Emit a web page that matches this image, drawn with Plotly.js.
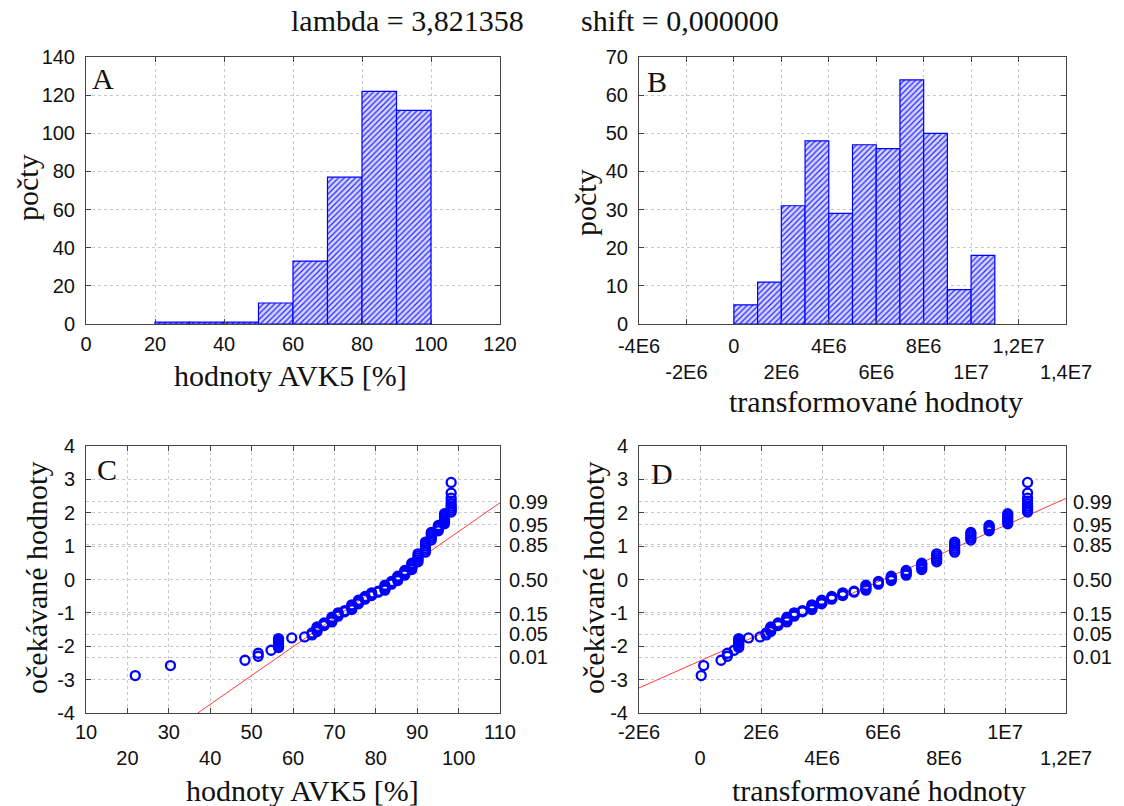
<!DOCTYPE html>
<html><head><meta charset="utf-8">
<script src="https://cdn.plot.ly/plotly-3.0.1.min.js"></script>
<style>html,body{margin:0;padding:0;background:#fff}#chart{width:1124px;height:806px}</style>
</head><body><div id="chart"></div>
<script>
// ---- Data ----
// A: histogram of raw AVK5 values
const binCentersA = [25, 35, 45, 55, 65, 75, 85, 95];
const countsA = [1, 1, 1, 11, 33, 77, 122, 112];
const binWidthA = 10;
// B: histogram of transformed values
const binCentersB = [0.5e6, 1.5e6, 2.5e6, 3.5e6, 4.5e6, 5.5e6, 6.5e6, 7.5e6, 8.5e6, 9.5e6, 10.5e6];
const countsB = [5, 11, 31, 48, 29, 47, 46, 64, 50, 9, 18];
const binWidthB = 1e6;

// C / D: normal probability plots (clusters of tied values)
const clusterRaw = [21.9, 30.4, 48.4, 51.6, 54.7, 56.5, 59.7, 62.8, 64.6, 65.8,
  67.5, 69.4, 70.9, 72.5, 74.2, 75.8, 77.4, 79.0, 80.6, 82.2,
  83.8, 85.3, 87.0, 88.7, 90.2, 92.0, 93.4, 95.1, 96.6, 98.2];
const clusterTrans = [0.04e6, 0.12e6, 0.69e6, 0.9e6, 1.12e6, 1.27e6, 1.59e6, 1.97e6, 2.17e6, 2.32e6,
  2.56e6, 2.85e6, 3.09e6, 3.36e6, 3.67e6, 3.99e6, 4.32e6, 4.68e6, 5.05e6, 5.44e6,
  5.85e6, 6.27e6, 6.76e6, 7.27e6, 7.76e6, 8.35e6, 8.88e6, 9.48e6, 10.09e6, 10.74e6];
const clusterExpected = [
  [-2.88], [-2.58], [-2.42], [-2.30, -2.21], [-2.12],
  [-2.04, -1.99, -1.94, -1.89, -1.85, -1.81, -1.77],
  [-1.75], [-1.72], [-1.66, -1.60], [-1.56, -1.51, -1.46, -1.42],
  [-1.38, -1.34, -1.30], [-1.27, -1.22, -1.17, -1.13], [-1.10, -1.05, -1.00], [-0.97, -0.93],
  [-0.90, -0.85, -0.80, -0.76], [-0.73, -0.69, -0.65, -0.62], [-0.59, -0.55, -0.51],
  [-0.48, -0.44, -0.40], [-0.38, -0.35], [-0.32, -0.27, -0.22, -0.17],
  [-0.14, -0.10, -0.06], [-0.03, 0.02, 0.07, 0.10], [0.13, 0.18, 0.23, 0.27],
  [0.30, 0.35, 0.40, 0.45, 0.49], [0.53, 0.59, 0.65, 0.71, 0.77],
  [0.82, 0.88, 0.94, 1.00, 1.06, 1.12], [1.18, 1.24, 1.30, 1.36, 1.41],
  [1.46, 1.52, 1.57, 1.62], [1.67, 1.73, 1.79, 1.85, 1.91, 1.97],
  [2.02, 2.08, 2.14, 2.20, 2.27, 2.35, 2.44, 2.59, 2.91]
];
// fitted normal lines (end points)
const fitRawX = [37, 110];
const fitRawY = [-4, 2.30];
const fitTransX = [-2e6, 1.2e7];
const fitTransY = [-3.25, 2.43];

// probability scale on the right of C and D
const probLabels = ['0.99', '0.95', '0.85', '0.50', '0.15', '0.05', '0.01'];
const probZ = [2.326, 1.645, 1.036, 0, -1.036, -1.645, -2.326];

// tick values / labels
const ticksAx = [0, 20, 40, 60, 80, 100, 120];
const ticksAy = [0, 20, 40, 60, 80, 100, 120, 140];
const ticksBx = [-4e6, -2e6, 0, 2e6, 4e6, 6e6, 8e6, 1e7, 1.2e7, 1.4e7];
const labelsBx = ['-4E6', '-2E6', '0', '2E6', '4E6', '6E6', '8E6', '1E7', '1,2E7', '1,4E7'];
const ticksBy = [0, 10, 20, 30, 40, 50, 60, 70];
const ticksCx = [10, 20, 30, 40, 50, 60, 70, 80, 90, 100, 110];
const labelsCx = ['10', '20', '30', '40', '50', '60', '70', '80', '90', '100', '110'];
const ticksQy = [-4, -3, -2, -1, 0, 1, 2, 3, 4];
const ticksDx = [-2e6, 0, 2e6, 4e6, 6e6, 8e6, 1e7, 1.2e7];
const labelsDx = ['-2E6', '0', '2E6', '4E6', '6E6', '8E6', '1E7', '1,2E7'];

// ---- Build points ----
const ptRaw = [], ptTrans = [], ptExp = [];
clusterExpected.forEach((ys, i) => {
  ys.forEach(y => { ptRaw.push(clusterRaw[i]); ptTrans.push(clusterTrans[i]); ptExp.push(y); });
});
const alt = arr => arr.map((t, i) => (i % 2 ? '<br>' + t : t));

// ---- Styles ----
const W = 1124, H = 806;
const tickFont = {family: 'Liberation Sans, Arial, sans-serif', size: 20, color: '#111'};
const serif = 'Liberation Serif, Times New Roman, serif';
const frame = '#444';
const gridC = '#c8c8c8';
function ax(extra) {
  return Object.assign({
    showline: true, mirror: 'ticks', linecolor: frame, linewidth: 1,
    ticks: 'inside', ticklen: 5, tickcolor: frame, tickwidth: 1,
    showgrid: true, gridcolor: gridC, griddash: 'dot', gridwidth: 1,
    zeroline: false, tickfont: tickFont, tickmode: 'array', fixedrange: true
  }, extra);
}
const dx = p => p / W, dy = p => 1 - p / H;

const barMarker = {
  color: '#c8c8ff',
  line: {color: '#0000ff', width: 1.2},
  pattern: {shape: '/', fgcolor: '#2a2aff', bgcolor: '#d6d6ff', size: 4, solidity: 0.33}
};
const ptMarker = {symbol: 'circle-open', size: 9, color: '#0000ff', line: {width: 2.3, color: '#0000ff'}};
const fitLine = {color: '#ff3b3b', width: 1};

const traces = [
  {type: 'bar', x: binCentersA, y: countsA, width: binCentersA.map(() => binWidthA),
   marker: barMarker, xaxis: 'x', yaxis: 'y', hoverinfo: 'skip'},
  {type: 'bar', x: binCentersB, y: countsB, width: binCentersB.map(() => binWidthB),
   marker: barMarker, xaxis: 'x2', yaxis: 'y2', hoverinfo: 'skip'},
  {type: 'scatter', mode: 'lines', x: fitRawX, y: fitRawY, line: fitLine, xaxis: 'x3', yaxis: 'y3', hoverinfo: 'skip'},
  {type: 'scatter', mode: 'markers', x: ptRaw, y: ptExp, marker: ptMarker, xaxis: 'x3', yaxis: 'y3', hoverinfo: 'skip'},
  {type: 'scatter', mode: 'lines', x: fitTransX, y: fitTransY, line: fitLine, xaxis: 'x4', yaxis: 'y4', hoverinfo: 'skip'},
  {type: 'scatter', mode: 'markers', x: ptTrans, y: ptExp, marker: ptMarker, xaxis: 'x4', yaxis: 'y4', hoverinfo: 'skip'},
  {type: 'scatter', mode: 'markers', x: [], y: [], xaxis: 'x3', yaxis: 'y5', hoverinfo: 'skip'},
  {type: 'scatter', mode: 'markers', x: [], y: [], xaxis: 'x4', yaxis: 'y6', hoverinfo: 'skip'}
];

const domTop = [dy(324), dy(57)], domBot = [dy(713), dy(446)];
const domL = [dx(86), dx(500)], domR = [dx(639), dx(1066)];
const layout = {
  width: W, height: H, showlegend: false,
  paper_bgcolor: '#fff', plot_bgcolor: '#fff',
  margin: {l: 0, r: 0, t: 0, b: 0},
  bargap: 0,
  xaxis: ax({domain: domL, anchor: 'y', range: [0, 120], tickvals: ticksAx, ticktext: ticksAx.map(String), tickangle: 0, ticklabelstandoff: 2}),
  yaxis: ax({domain: domTop, anchor: 'x', range: [0, 140], tickvals: ticksAy, ticktext: ticksAy.map(String), ticklabelstandoff: 6}),
  xaxis2: ax({domain: domR, anchor: 'y2', range: [-4e6, 1.4e7], tickvals: ticksBx, ticktext: alt(labelsBx), tickangle: 0, ticklabelstandoff: 4}),
  yaxis2: ax({domain: domTop, anchor: 'x2', range: [0, 70], tickvals: ticksBy, ticktext: ticksBy.map(String), ticklabelstandoff: 6}),
  xaxis3: ax({domain: domL, anchor: 'y3', range: [10, 110], tickvals: ticksCx, ticktext: alt(labelsCx), tickangle: 0, ticklabelstandoff: 1}),
  yaxis3: ax({domain: domBot, anchor: 'x3', range: [-4, 4], tickvals: ticksQy, ticktext: ticksQy.map(String), ticklabelstandoff: 6}),
  xaxis4: ax({domain: domR, anchor: 'y4', range: [-2e6, 1.2e7], tickvals: ticksDx, ticktext: alt(labelsDx), tickangle: 0, ticklabelstandoff: 1}),
  yaxis4: ax({domain: domBot, anchor: 'x4', range: [-4, 4], tickvals: ticksQy, ticktext: ticksQy.map(String), ticklabelstandoff: 6}),
  yaxis5: ax({overlaying: 'y3', anchor: 'x3', side: 'right', range: [-4, 4], tickvals: probZ, ticktext: probLabels,
              showline: false, ticks: '', ticklabelstandoff: 8}),
  yaxis6: ax({overlaying: 'y4', anchor: 'x4', side: 'right', range: [-4, 4], tickvals: probZ, ticktext: probLabels,
              showline: false, ticks: '', ticklabelstandoff: 6}),
  annotations: [
    {text: 'lambda = 3,821358', x: dx(407), y: dy(20), font: {family: serif, size: 30, color: '#111'}},
    {text: 'shift = 0,000000', x: dx(680), y: dy(20), font: {family: serif, size: 30, color: '#111'}},
    {text: 'A', x: dx(103), y: dy(78)},
    {text: 'B', x: dx(657), y: dy(82)},
    {text: 'C', x: dx(107), y: dy(470)},
    {text: 'D', x: dx(662), y: dy(473)},
    {text: 'hodnoty AVK5 [%]', x: dx(290), y: dy(376)},
    {text: 'transformované hodnoty', x: dx(876), y: dy(402)},
    {text: 'hodnoty AVK5 [%]', x: dx(302), y: dy(790)},
    {text: 'transformované hodnoty', x: dx(879), y: dy(790)},
    {text: 'počty', x: dx(28), y: dy(188), textangle: -90},
    {text: 'počty', x: dx(585), y: dy(203), textangle: -90},
    {text: 'očekávané hodnoty', x: dx(36), y: dy(578), textangle: -90},
    {text: 'očekávané hodnoty', x: dx(593), y: dy(578), textangle: -90}
  ].map(a => Object.assign({xref: 'paper', yref: 'paper', showarrow: false, xanchor: 'center', yanchor: 'middle',
                            font: {family: serif, size: 30, color: '#111'}}, a))
};

Plotly.newPlot('chart', traces, layout, {displayModeBar: false, staticPlot: true});
</script>
</body></html>
